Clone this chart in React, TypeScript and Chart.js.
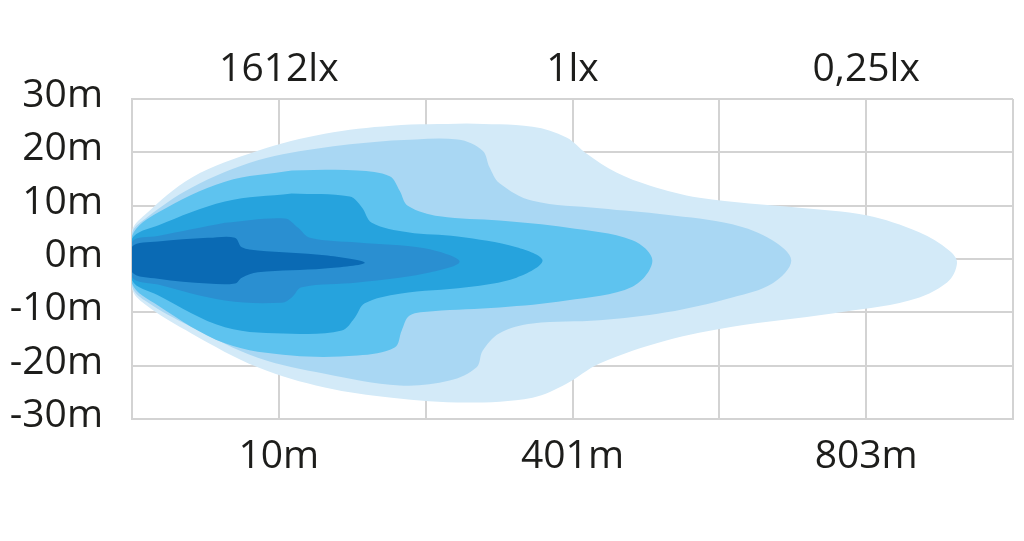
import React, { useRef, useEffect } from "react";
import { Chart, registerables } from "chart.js";

Chart.register(...registerables);

// distance bands along the beam (x) and width in metres (y); one closed outline per lux level,
// each outline starts on its upper edge so the blunt nose at x=0 stays smooth
const layer1X = [2.279, 2.728, 2.959, 3.095, 3.299, 3.524, 3.864, 4.544, 5.0, 5.361, 5.565, 5.619, 5.551, 5.293, 4.769, 4.088, 3.639, 3.184, 2.959, 2.728, 2.279, 1.769, 1.313, 0.857, 0.408, 0.088, 0, 0, 0.088, 0.408, 0.857, 1.313, 1.769, 2.279];
const layer1Y = [25.4, 24.8, 22.8, 19.8, 16.2, 13.8, 11.5, 9.6, 8.2, 5.0, 1.6, -0.7, -4.4, -7.8, -10.2, -12.7, -15.3, -19.6, -23.4, -26.0, -26.9, -26.0, -24.1, -20.3, -14.0, -8.5, -5.5, 5.2, 8.3, 15.3, 20.3, 23.5, 25.0, 25.4];

const layer2X = [1.769, 2.218, 2.388, 2.435, 2.503, 2.728, 3.184, 3.639, 4.088, 4.361, 4.49, 4.361, 4.088, 3.639, 3.184, 2.728, 2.503, 2.388, 2.347, 2.163, 1.823, 1.313, 0.857, 0.408, 0.088, 0, 0, 0.088, 0.408, 0.857, 1.313, 1.769];
const layer2Y = [22.2, 22.4, 20.3, 17.2, 14.2, 10.9, 9.5, 8.3, 6.5, 3.5, -0.3, -4.6, -7.2, -10.0, -11.5, -12.1, -13.9, -17.2, -20.3, -22.8, -23.7, -21.5, -18.5, -12.8, -7.8, -5.0, 4.8, 7.5, 13.4, 18.5, 20.9, 22.2];

const layer3X = [1.088, 1.537, 1.755, 1.823, 1.878, 2.095, 2.503, 2.959, 3.408, 3.544, 3.408, 2.959, 2.503, 2.048, 1.891, 1.837, 1.789, 1.537, 1.088, 0.633, 0.177, 0, 0, 0.177, 0.633, 1.088];
const layer3Y = [16.6, 16.6, 15.5, 12.8, 10.0, 8.0, 7.2, 5.9, 3.5, -0.3, -5.2, -7.8, -9.1, -9.8, -10.6, -13.4, -16.6, -18.1, -18.1, -15.8, -8.7, -4.6, 4.3, 8.7, 14.5, 16.6];

const layer4X = [1.088, 1.483, 1.565, 1.633, 1.878, 2.218, 2.619, 2.796, 2.619, 2.279, 1.823, 1.585, 1.517, 1.429, 1.088, 0.633, 0.177, 0, 0, 0.177, 0.633, 1.088];
const layer4Y = [12.3, 11.7, 9.7, 6.8, 5.0, 4.2, 2.2, -0.3, -3.5, -5.3, -6.5, -8.3, -11.0, -13.4, -14.0, -12.8, -6.8, -4.0, 3.8, 6.3, 10.8, 12.3];

const layer5X = [0.633, 1.041, 1.129, 1.211, 1.537, 1.993, 2.231, 1.993, 1.537, 1.156, 1.088, 1.02, 0.633, 0.177, 0, 0, 0.177, 0.633];
const layer5Y = [6.8, 7.6, 5.9, 4.0, 3.1, 2.0, -0.5, -2.7, -4.4, -5.3, -7.2, -8.2, -7.8, -4.8, -3.4, 3.2, 4.3, 6.8];

const layer6X = [0.517, 0.701, 0.748, 0.857, 1.313, 1.585, 1.313, 0.857, 0.748, 0.701, 0.517, 0.177, 0, 0, 0.177, 0.517];
const layer6Y = [4.0, 4.0, 2.2, 1.6, 0.7, -0.7, -1.8, -2.5, -3.5, -4.6, -4.6, -3.7, -2.5, 2.3, 3.3, 4.0];

// darkest first so it is painted last (on top)
const layerXs = [layer6X, layer5X, layer4X, layer3X, layer2X, layer1X];
const layerYs = [layer6Y, layer5Y, layer4Y, layer3Y, layer2Y, layer1Y];
const layerColors = ["#0a6ab4", "#2a8fd1", "#26a3dd", "#5ec3ef", "#a9d7f3", "#d3eaf8"];

const distanceLabels: Record<number, string> = { 1: "10m", 3: "401m", 5: "803m" };
const luxLabels: Record<number, string> = { 1: "1612lx", 3: "1lx", 5: "0,25lx" };
const yTicks = [-30, -20, -10, 0, 10, 20, 30];

const gridColor = "#d3d3d3";
const textColor = "#1d1d1b";
const labelFont = { family: "'Open Sans', sans-serif", size: 39 };

const BeamChart: React.FC = () => {
	const chartRef = useRef<HTMLCanvasElement | null>(null);
	const chartInstance = useRef<Chart | null>(null);

	useEffect(() => {
		if (chartInstance.current) {
			chartInstance.current.destroy();
			chartInstance.current = null;
		}
		if (!chartRef.current) return;
		const ctx = chartRef.current.getContext("2d");
		if (!ctx) return;

		const datasets = layerXs.map((xs, i) => ({
			label: "layer" + i,
			data: xs.map((x, j) => ({ x, y: layerYs[i][j] })),
			showLine: true,
			fill: "shape" as const,
			backgroundColor: layerColors[i],
			borderWidth: 0,
			borderColor: "rgba(0,0,0,0)",
			pointRadius: 0,
			tension: 0.35,
		}));

		chartInstance.current = new Chart(ctx, {
			type: "scatter",
			data: { datasets },
			options: {
				animation: false,
				responsive: true,
				maintainAspectRatio: false,
				layout: { padding: { left: 0, right: 11, top: 0, bottom: 0 } },
				plugins: {
					legend: { display: false },
					tooltip: { enabled: false },
				},
				scales: {
					x: {
						type: "linear",
						position: "bottom",
						min: 0,
						max: 6,
						afterFit: (s: any) => {
							s.height = 122;
							s.paddingLeft = 0;
							s.paddingRight = 0;
						},
						ticks: {
							stepSize: 1,
							padding: 14,
							color: textColor,
							font: labelFont,
							maxRotation: 0,
							autoSkip: false,
							callback: (v: any) => distanceLabels[v] ?? "",
						},
						grid: { color: gridColor, lineWidth: 2, drawTicks: false },
						border: { color: gridColor, width: 2 },
					},
					xTop: {
						type: "linear",
						position: "top",
						min: 0,
						max: 6,
						afterFit: (s: any) => {
							s.height = 99;
							s.paddingLeft = 0;
							s.paddingRight = 0;
						},
						ticks: {
							stepSize: 1,
							padding: 6,
							color: textColor,
							font: labelFont,
							maxRotation: 0,
							autoSkip: false,
							callback: (v: any) => luxLabels[v] ?? "",
						},
						grid: { drawOnChartArea: false, drawTicks: false },
						border: { display: false },
					},
					y: {
						type: "linear",
						min: -30,
						max: 30,
						afterFit: (s: any) => {
							s.width = 132;
							s.paddingTop = 0;
							s.paddingBottom = 0;
						},
						afterBuildTicks: (s: any) => {
							s.ticks = yTicks.map((value) => ({ value }));
						},
						ticks: {
							padding: 29,
							labelOffset: -3,
							color: textColor,
							font: labelFont,
							callback: (v: any) => `${v}m`,
						},
						grid: { color: gridColor, lineWidth: 2, drawTicks: false },
						border: { color: gridColor, width: 2 },
					},
				},
			},
		});

		return () => {
			if (chartInstance.current) {
				chartInstance.current.destroy();
				chartInstance.current = null;
			}
		};
	}, []);

	return <canvas ref={chartRef}></canvas>;
};

export default function App() {
	return (
		<div
			style={{
				position: "absolute",
				left: 0,
				top: 0,
				width: 1024,
				height: 541,
				background: "#ffffff",
			}}
		>
			<BeamChart />
		</div>
	);
}
